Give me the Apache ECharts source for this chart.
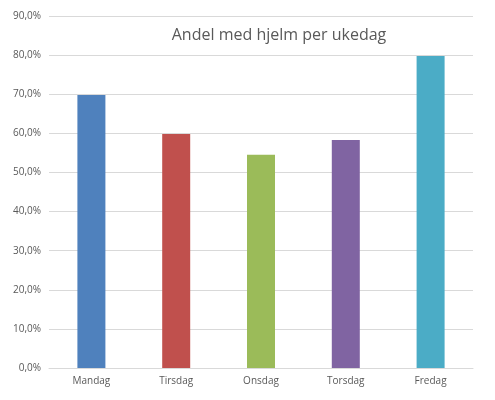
<!DOCTYPE html>
<html><head><meta charset="utf-8">
<script src="https://cdn.jsdelivr.net/npm/echarts@6/dist/echarts.min.js"></script>
<style>html,body{margin:0;padding:0;background:#fff}#c{width:495px;height:400px}</style>
</head><body><div id="c"></div>
<script>
const categories = ["Mandag","Tirsdag","Onsdag","Torsdag","Fredag"];
const values = [69.8, 59.8, 54.5, 58.3, 79.8];
const colors = ["#4F81BD","#C0504D","#9BBB59","#8064A2","#4BACC6"];
const title = "Andel med hjelm per ukedag";
const chart = echarts.init(document.getElementById('c'));
chart.setOption({
  animation:false,
  title:{text:title,left:274,top:22,textAlign:'center',textStyle:{fontFamily:'Open Sans',fontSize:16,fontWeight:'normal',color:'#595959'}},
  grid:{left:49,right:22,top:16,bottom:32},
  xAxis:{type:'category',data:categories,axisTick:{show:false},axisLine:{lineStyle:{color:'#d9d9d9'}},
    axisLabel:{color:'#595959',fontSize:10,fontFamily:'Open Sans'}},
  yAxis:{type:'value',min:0,max:90,interval:10,
    axisLabel:{color:'#595959',fontSize:10,fontFamily:'Open Sans',formatter:v=>v.toFixed(1).replace('.',',')+'%'},
    splitLine:{lineStyle:{color:'#d9d9d9'}}},
  series:[{type:'bar',barWidth:28,data:values.map((v,i)=>({value:v,itemStyle:{color:colors[i]}}))}]
});
</script></body></html>
